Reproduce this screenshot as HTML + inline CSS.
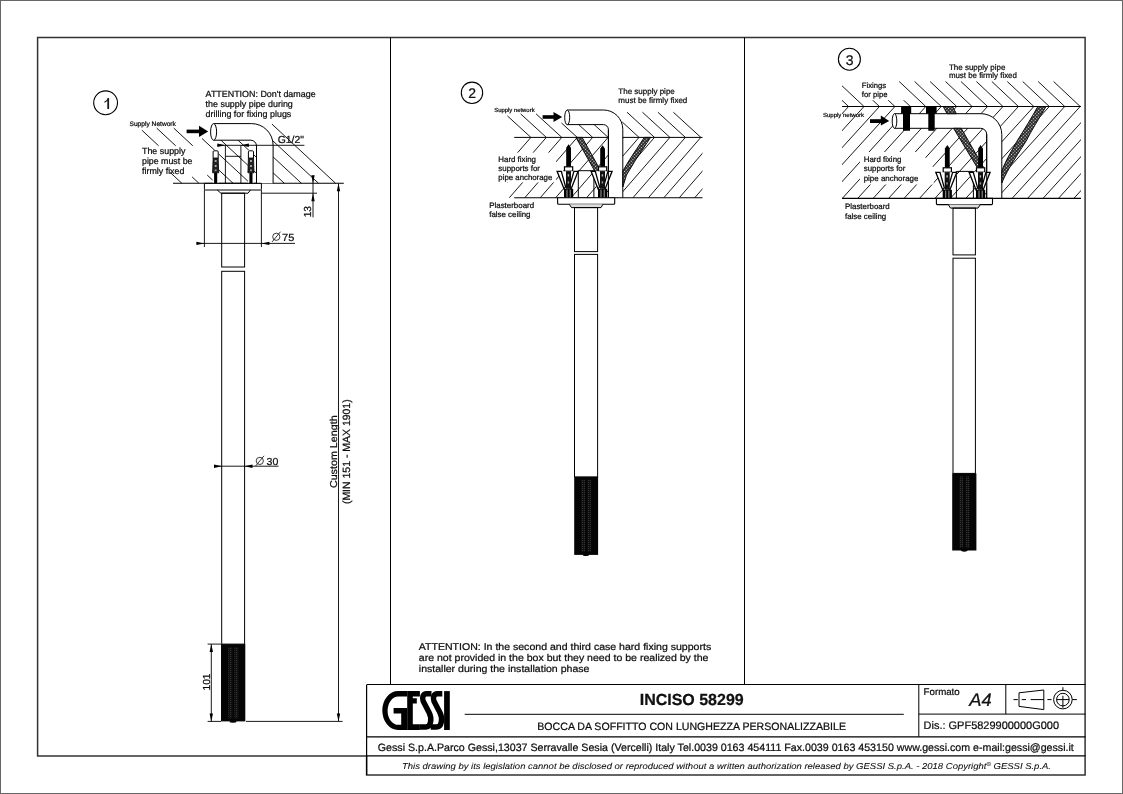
<!DOCTYPE html>
<html><head><meta charset="utf-8"><style>
html,body{margin:0;padding:0;background:#fff;width:1123px;height:794px;overflow:hidden}
svg{display:block;will-change:transform}
text{font-family:"Liberation Sans",sans-serif;text-rendering:geometricPrecision;stroke:#000;stroke-width:0.22px;fill:#111}
</style></head><body>
<svg width="1123" height="794" viewBox="0 0 1123 794">
<rect width="1123" height="794" fill="#fff"/>
<defs><pattern id="kn" width="2" height="2" patternUnits="userSpaceOnUse"><rect width="2" height="2" fill="#111"/><rect width="1" height="1" fill="#333"/></pattern></defs>
<rect x="0.50" y="0.50" width="1122.00" height="793.00" fill="none" stroke="#666" stroke-width="1.0" />
<path d="M366.6,755.9 H37.6 V37.6 H1085.1 V775 H366.6 Z" fill="none" stroke="#333" stroke-width="1.5" />
<line x1="390.50" y1="37.50" x2="390.50" y2="684.50" stroke="#000" stroke-width="1.0" />
<line x1="744.50" y1="37.50" x2="744.50" y2="684.50" stroke="#000" stroke-width="1.0" />
<line x1="367.00" y1="684.50" x2="1085.50" y2="684.50" stroke="#000" stroke-width="1.2" />
<line x1="366.60" y1="684.50" x2="366.60" y2="775.00" stroke="#000" stroke-width="1.2" />
<line x1="367.00" y1="736.80" x2="1085.50" y2="736.80" stroke="#000" stroke-width="1.2" />
<line x1="367.00" y1="755.80" x2="1085.50" y2="755.80" stroke="#000" stroke-width="1.2" />
<line x1="918.80" y1="684.50" x2="918.80" y2="736.80" stroke="#000" stroke-width="1.0" />
<line x1="1005.80" y1="684.50" x2="1005.80" y2="714.10" stroke="#000" stroke-width="1.0" />
<line x1="918.80" y1="714.10" x2="1085.50" y2="714.10" stroke="#000" stroke-width="1.0" />
<line x1="464.70" y1="714.30" x2="903.80" y2="714.30" stroke="#000" stroke-width="1.0" />
<text x="691.70" y="705.40" font-size="16" text-anchor="middle" font-weight="bold" font-style="normal" fill="#111" textLength="104" lengthAdjust="spacingAndGlyphs" >INCISO 58299</text>
<text x="537.30" y="729.70" font-size="10.6" text-anchor="start" font-weight="normal" font-style="normal" fill="#222" textLength="308.7" lengthAdjust="spacingAndGlyphs" >BOCCA DA SOFFITTO CON LUNGHEZZA PERSONALIZZABILE</text>
<text x="923.60" y="694.70" font-size="9.7" text-anchor="start" font-weight="normal" font-style="normal" fill="#222" textLength="36.1" lengthAdjust="spacingAndGlyphs" >Formato</text>
<text x="969.30" y="705.60" font-size="18.3" text-anchor="start" font-weight="normal" font-style="italic" fill="#111" textLength="22.4" lengthAdjust="spacingAndGlyphs" >A4</text>
<text x="923.60" y="729.40" font-size="10.9" text-anchor="start" font-weight="normal" font-style="normal" fill="#222" textLength="135.4" lengthAdjust="spacingAndGlyphs" >Dis.: GPF5829900000G000</text>
<text x="377.80" y="750.80" font-size="10.6" text-anchor="start" font-weight="normal" font-style="normal" fill="#222" textLength="696" lengthAdjust="spacingAndGlyphs" >Gessi S.p.A.Parco Gessi,13037 Serravalle Sesia (Vercelli) Italy Tel.0039 0163 454111 Fax.0039 0163 453150 www.gessi.com e-mail:gessi@gessi.it</text>
<text x="402" y="768.6" font-size="8.6" font-style="italic" fill="#222" style="stroke-width:0.08px" textLength="649" lengthAdjust="spacingAndGlyphs">This drawing by its legislation cannot be disclosed or reproduced without a written authorization released by GESSI S.p.A. - 2018 Copyright<tspan font-size="5.5" dy="-3">©</tspan><tspan dy="3"> GESSI S.p.A.</tspan></text>
<path d="M1019,692.8 L1043.8,690 L1043.8,709.6 L1019,706.4 Z" fill="none" stroke="#000" stroke-width="1" />
<line x1="1013.50" y1="699.60" x2="1017.80" y2="699.60" stroke="#000" stroke-width="1.0" />
<line x1="1021.70" y1="699.60" x2="1026.00" y2="699.60" stroke="#000" stroke-width="1.0" />
<line x1="1030.60" y1="699.60" x2="1043.80" y2="699.60" stroke="#000" stroke-width="1.0" />
<circle cx="1062.9" cy="699.6" r="9.3" fill="none" stroke="#000" stroke-width="1"/>
<circle cx="1062.9" cy="699.6" r="6.3" fill="none" stroke="#000" stroke-width="1"/>
<line x1="1047.40" y1="699.60" x2="1051.60" y2="699.60" stroke="#000" stroke-width="1.0" />
<line x1="1056.60" y1="699.60" x2="1069.20" y2="699.60" stroke="#000" stroke-width="1.0" />
<line x1="1072.20" y1="699.60" x2="1076.90" y2="699.60" stroke="#000" stroke-width="1.0" />
<line x1="1062.90" y1="687.20" x2="1062.90" y2="690.30" stroke="#000" stroke-width="1.0" />
<line x1="1062.90" y1="695.80" x2="1062.90" y2="707.80" stroke="#000" stroke-width="1.0" />
<g fill="#000">
<path fill-rule="evenodd" d="M407.2,691.1 H398 A15.7,19.4 0 0 0 398,729.9 H407.2 Z M407.2,696.5 H398.3 A10.7,14.15 0 0 0 398.3,724.8 H401.2 V713.5 H393.6 V708.1 H407.2 Z"/>
<path d="M407.2,691.1 H419.9 V696.5 H412.8 V698.2 H416.8 V703.6 H412.8 V724.3 H419.9 V730 H407.2 Z"/>
</g>
<g fill="none" stroke="#000" stroke-width="5.5">
<path d="M431.5,693.8 H426.5 C423,693.8 421.8,697.5 423.2,701.2 L429.2,712.8 C431.8,718 431.5,727.1 425.5,727.1 H419.9"/>
<path d="M442.3,693.8 H437.3 C433.8,693.8 432.6,697.5 434,701.2 L440,712.8 C442.6,718 442.3,727.1 436.3,727.1 H430.7"/>
</g>
<rect x="444.1" y="691.1" width="5.7" height="38.9" fill="#000"/>

<line x1="271.94" y1="124.10" x2="335.60" y2="183.30" stroke="#000" stroke-width="0.9" />
<line x1="254.76" y1="124.00" x2="318.52" y2="183.30" stroke="#000" stroke-width="0.9" />
<line x1="237.68" y1="124.00" x2="301.44" y2="183.30" stroke="#000" stroke-width="0.9" />
<line x1="220.60" y1="124.00" x2="284.36" y2="183.30" stroke="#000" stroke-width="0.9" />
<line x1="219.65" y1="139.00" x2="267.28" y2="183.30" stroke="#000" stroke-width="0.9" />
<line x1="202.03" y1="138.50" x2="250.20" y2="183.30" stroke="#000" stroke-width="0.9" />
<line x1="173.77" y1="128.10" x2="192.80" y2="145.80" stroke="#000" stroke-width="0.9" />
<line x1="213.12" y1="164.70" x2="233.12" y2="183.30" stroke="#000" stroke-width="0.9" />
<line x1="156.69" y1="128.10" x2="175.72" y2="145.80" stroke="#000" stroke-width="0.9" />
<line x1="207.22" y1="175.10" x2="216.04" y2="183.30" stroke="#000" stroke-width="0.9" />
<line x1="141.86" y1="130.20" x2="158.64" y2="145.80" stroke="#000" stroke-width="0.9" />
<line x1="192.08" y1="176.90" x2="198.96" y2="183.30" stroke="#000" stroke-width="0.9" />
<line x1="170.27" y1="172.50" x2="181.88" y2="183.30" stroke="#000" stroke-width="0.9" />
<line x1="173.00" y1="183.30" x2="343.80" y2="183.30" stroke="#000" stroke-width="1.1" />
<path d="M213.6,123.6 H251.5 A21.6,21.6 0 0 1 273.1,145.2 V183.3 H256.5 V146 A5.8,5.8 0 0 0 250.7,140.2 H213.6 Z" fill="#fff" stroke="none" stroke-width="1.0" />
<path d="M213.6,123.6 H251.5 A21.6,21.6 0 0 1 273.1,145.2 V183.3" fill="none" stroke="#000" stroke-width="1" />
<path d="M213.6,140.2 H250.7 A5.8,5.8 0 0 1 256.5,146 V183.3" fill="none" stroke="#000" stroke-width="1" />
<ellipse cx="213.6" cy="131.9" rx="3" ry="8.3" fill="#fff" stroke="#000" stroke-width="1"/>
<line x1="225.40" y1="145.30" x2="225.40" y2="183.30" stroke="#000" stroke-width="0.9" />
<line x1="240.90" y1="145.30" x2="240.90" y2="183.30" stroke="#000" stroke-width="0.9" />
<line x1="225.40" y1="156.30" x2="240.90" y2="156.30" stroke="#000" stroke-width="0.9" />
<line x1="217.20" y1="145.30" x2="304.40" y2="145.30" stroke="#000" stroke-width="0.9" />
<path d="M225.40,145.30 L217.40,147.00 L217.40,143.60 Z" fill="#000"/>
<path d="M240.90,145.30 L248.90,143.60 L248.90,147.00 Z" fill="#000"/>
<text x="277.70" y="143.30" font-size="10.2" text-anchor="start" font-weight="normal" font-style="normal" fill="#222" textLength="26.2" lengthAdjust="spacingAndGlyphs" >G1/2"</text>
<rect x="186.60" y="129.60" width="12.60" height="3.60" fill="#000" stroke="none" stroke-width="1.0" />
<path d="M199,125.8 L208.2,131.4 L199,137 Z" fill="#000"/>
<rect x="212.60" y="150.30" width="6.10" height="33.00" fill="#fff" stroke="none" stroke-width="1.0" />
<path d="M213.1,158 V151.8 Q213.1,150.8 214.1,150.8 H217.2 Q218.2,150.8 218.2,151.8 V158" fill="#fff" stroke="#000" stroke-width="1.0" />
<path d="M213.1,158 H218.2 L218.7,172.8 H212.6 Z" fill="#222" stroke="#000" stroke-width="0.8" />
<rect x="214.70" y="160.00" width="1.90" height="2.00" fill="#aaa" stroke="none" stroke-width="1.0" />
<rect x="214.70" y="165.00" width="1.90" height="2.00" fill="#aaa" stroke="none" stroke-width="1.0" />
<rect x="214.70" y="169.50" width="1.90" height="1.60" fill="#999" stroke="none" stroke-width="1.0" />
<rect x="214.10" y="172.80" width="3.10" height="10.50" fill="#000" stroke="none" stroke-width="1.0" />
<rect x="247.90" y="150.30" width="6.10" height="33.00" fill="#fff" stroke="none" stroke-width="1.0" />
<path d="M248.4,158 V151.8 Q248.4,150.8 249.4,150.8 H252.5 Q253.5,150.8 253.5,151.8 V158" fill="#fff" stroke="#000" stroke-width="1.0" />
<path d="M248.4,158 H253.5 L254.0,172.8 H247.9 Z" fill="#222" stroke="#000" stroke-width="0.8" />
<rect x="250.00" y="160.00" width="1.90" height="2.00" fill="#aaa" stroke="none" stroke-width="1.0" />
<rect x="250.00" y="165.00" width="1.90" height="2.00" fill="#aaa" stroke="none" stroke-width="1.0" />
<rect x="250.00" y="169.50" width="1.90" height="1.60" fill="#999" stroke="none" stroke-width="1.0" />
<rect x="249.40" y="172.80" width="3.10" height="10.50" fill="#000" stroke="none" stroke-width="1.0" />
<text x="205.60" y="97.20" font-size="8.9" text-anchor="start" font-weight="normal" font-style="normal" fill="#222" textLength="110" lengthAdjust="spacingAndGlyphs" >ATTENTION: Don't damage</text>
<text x="205.60" y="107.30" font-size="8.9" text-anchor="start" font-weight="normal" font-style="normal" fill="#222" textLength="87.2" lengthAdjust="spacingAndGlyphs" >the supply pipe during</text>
<text x="205.60" y="117.40" font-size="8.9" text-anchor="start" font-weight="normal" font-style="normal" fill="#222" textLength="85.7" lengthAdjust="spacingAndGlyphs" >drilling for fixing plugs</text>
<text x="129.50" y="125.60" font-size="6.6" text-anchor="start" font-weight="normal" font-style="normal" fill="#222" textLength="46.4" lengthAdjust="spacingAndGlyphs" >Supply Network</text>
<text x="142.00" y="154.00" font-size="8.9" text-anchor="start" font-weight="normal" font-style="normal" fill="#222" >The supply</text>
<text x="142.00" y="164.00" font-size="8.9" text-anchor="start" font-weight="normal" font-style="normal" fill="#222" textLength="50.5" lengthAdjust="spacingAndGlyphs" >pipe must be</text>
<text x="142.00" y="174.00" font-size="8.9" text-anchor="start" font-weight="normal" font-style="normal" fill="#222" >firmly fixed</text>
<circle cx="105.6" cy="102.8" r="11.9" fill="none" stroke="#000" stroke-width="1.1"/>
<path d="M104.4,101.6 C106,101 107.2,99.7 107.6,98 H109.1 V109 H107.3 V100.7 C106.6,101.5 105.6,102.2 104.4,102.8 Z" fill="#1a1a1a"/>
<path d="M204.4,183.3 H261.4 V189.2 Q261.4,190 260.6,190 H205.2 Q204.4,190 204.4,189.2 Z" fill="none" stroke="#000" stroke-width="1" />
<path d="M217.2,190 L220.9,193.2 H248 L250.5,190" fill="none" stroke="#000" stroke-width="1" />
<rect x="221.70" y="193.20" width="22.90" height="73.80" fill="none" stroke="#000" stroke-width="1" />
<rect x="221.70" y="271.30" width="22.90" height="372.80" fill="none" stroke="#000" stroke-width="1" />
<rect x="221.00" y="644.10" width="24.30" height="77.30" fill="#050505" stroke="none" stroke-width="1.0" />
<rect x="228.29" y="647.10" width="3.89" height="71.30" fill="url(#kn)"/>
<rect x="234.37" y="647.10" width="3.89" height="71.30" fill="url(#kn)"/>
<ellipse cx="233" cy="721.6" rx="3.5" ry="1.2" fill="#000"/>
<line x1="204.40" y1="190.00" x2="204.40" y2="247.00" stroke="#000" stroke-width="0.9" />
<line x1="261.40" y1="190.00" x2="261.40" y2="247.00" stroke="#000" stroke-width="0.9" />
<line x1="196.80" y1="243.40" x2="295.00" y2="243.40" stroke="#000" stroke-width="0.9" />
<path d="M204.40,243.40 L196.40,245.10 L196.40,241.70 Z" fill="#000"/>
<path d="M261.40,243.40 L269.40,241.70 L269.40,245.10 Z" fill="#000"/>
<text x="282.00" y="240.50" font-size="10.2" text-anchor="start" font-weight="normal" font-style="normal" fill="#222" textLength="12.3" lengthAdjust="spacingAndGlyphs" >75</text>
<circle cx="276.3" cy="236.8" r="3.6" fill="none" stroke="#222" stroke-width="0.9"/>
<line x1="272.10" y1="241.90" x2="280.50" y2="231.70" stroke="#222" stroke-width="0.9" />
<line x1="261.40" y1="193.20" x2="317.00" y2="193.20" stroke="#000" stroke-width="0.9" />
<line x1="313.00" y1="175.60" x2="313.00" y2="217.30" stroke="#000" stroke-width="0.9" />
<path d="M313.00,183.30 L311.30,175.30 L314.70,175.30 Z" fill="#000"/>
<path d="M313.00,193.20 L314.70,201.20 L311.30,201.20 Z" fill="#000"/>
<text x="0" y="0" font-size="10.2" fill="#222" transform="translate(311.2,211.7) rotate(-90)" text-anchor="middle">13</text>
<line x1="338.50" y1="183.30" x2="338.50" y2="721.40" stroke="#000" stroke-width="0.9" />
<path d="M338.50,183.30 L340.20,191.30 L336.80,191.30 Z" fill="#000"/>
<path d="M338.50,721.40 L336.80,713.40 L340.20,713.40 Z" fill="#000"/>
<line x1="246.00" y1="721.40" x2="342.60" y2="721.40" stroke="#000" stroke-width="0.9" />
<text x="0" y="0" font-size="10" fill="#222" transform="translate(336.8,488.1) rotate(-90)" textLength="72.8" lengthAdjust="spacingAndGlyphs">Custom Length</text>
<text x="0" y="0" font-size="10.5" fill="#222" transform="translate(350,504.1) rotate(-90)" textLength="104.8" lengthAdjust="spacingAndGlyphs">(MIN 151 - MAX 1901)</text>
<line x1="214.00" y1="466.20" x2="278.50" y2="466.20" stroke="#000" stroke-width="0.9" />
<path d="M222.00,466.20 L214.00,467.90 L214.00,464.50 Z" fill="#000"/>
<path d="M244.50,466.20 L252.50,464.50 L252.50,467.90 Z" fill="#000"/>
<circle cx="259.8" cy="460.9" r="3.6" fill="none" stroke="#222" stroke-width="0.9"/>
<line x1="255.60" y1="466.00" x2="264.00" y2="455.80" stroke="#222" stroke-width="0.9" />
<text x="266.60" y="464.60" font-size="10.2" text-anchor="start" font-weight="normal" font-style="normal" fill="#222" textLength="11.8" lengthAdjust="spacingAndGlyphs" >30</text>
<line x1="207.60" y1="644.10" x2="221.00" y2="644.10" stroke="#000" stroke-width="0.9" />
<line x1="207.60" y1="721.40" x2="221.00" y2="721.40" stroke="#000" stroke-width="0.9" />
<line x1="211.30" y1="644.10" x2="211.30" y2="721.40" stroke="#000" stroke-width="0.9" />
<path d="M211.30,644.10 L213.00,652.10 L209.60,652.10 Z" fill="#000"/>
<path d="M211.30,721.40 L209.60,713.40 L213.00,713.40 Z" fill="#000"/>
<text x="0" y="0" font-size="10.2" fill="#222" transform="translate(209.8,682) rotate(-90)" text-anchor="middle">101</text>
<defs><clipPath id="c2"><rect x="507.20000000000005" y="137.4" width="195.29999999999995" height="60.400000000000006"/></clipPath><clipPath id="c2u"><rect x="490" y="100" width="212.5" height="37.400000000000006"/></clipPath><pattern id="xh" width="2.4" height="2.4" patternUnits="userSpaceOnUse" patternTransform="rotate(45)"><rect width="2.4" height="2.4" fill="#1a1a1a"/><rect x="0.6" y="0.6" width="1.2" height="1.2" fill="#f4f4f4"/></pattern></defs>
<line x1="507.40" y1="115.90" x2="530.90" y2="137.40" stroke="#000" stroke-width="0.9" />
<line x1="520.67" y1="113.90" x2="546.35" y2="137.40" stroke="#000" stroke-width="0.9" />
<line x1="536.12" y1="113.90" x2="561.80" y2="137.40" stroke="#000" stroke-width="0.9" />
<line x1="561.51" y1="123.00" x2="577.25" y2="137.40" stroke="#000" stroke-width="0.9" />
<line x1="576.96" y1="123.00" x2="592.70" y2="137.40" stroke="#000" stroke-width="0.9" />
<line x1="592.41" y1="123.00" x2="608.15" y2="137.40" stroke="#000" stroke-width="0.9" />
<line x1="622.22" y1="122.00" x2="639.05" y2="137.40" stroke="#000" stroke-width="0.9" />
<line x1="626.96" y1="112.20" x2="654.50" y2="137.40" stroke="#000" stroke-width="0.9" />
<line x1="642.41" y1="112.20" x2="669.95" y2="137.40" stroke="#000" stroke-width="0.9" />
<line x1="657.86" y1="112.20" x2="685.40" y2="137.40" stroke="#000" stroke-width="0.9" />
<line x1="673.31" y1="112.20" x2="700.85" y2="137.40" stroke="#000" stroke-width="0.9" />
<g clip-path="url(#c2)">
<line x1="530.90" y1="137.40" x2="476.64" y2="199.80" stroke="#000" stroke-width="0.9" />
<line x1="546.35" y1="137.40" x2="492.09" y2="199.80" stroke="#000" stroke-width="0.9" />
<line x1="561.80" y1="137.40" x2="507.54" y2="199.80" stroke="#000" stroke-width="0.9" />
<line x1="577.25" y1="137.40" x2="522.99" y2="199.80" stroke="#000" stroke-width="0.9" />
<line x1="592.70" y1="137.40" x2="538.44" y2="199.80" stroke="#000" stroke-width="0.9" />
<line x1="608.15" y1="137.40" x2="553.89" y2="199.80" stroke="#000" stroke-width="0.9" />
<line x1="623.60" y1="137.40" x2="569.34" y2="199.80" stroke="#000" stroke-width="0.9" />
<line x1="639.05" y1="137.40" x2="584.79" y2="199.80" stroke="#000" stroke-width="0.9" />
<line x1="654.50" y1="137.40" x2="600.24" y2="199.80" stroke="#000" stroke-width="0.9" />
<line x1="669.95" y1="137.40" x2="615.69" y2="199.80" stroke="#000" stroke-width="0.9" />
<line x1="685.40" y1="137.40" x2="631.14" y2="199.80" stroke="#000" stroke-width="0.9" />
<line x1="700.85" y1="137.40" x2="646.59" y2="199.80" stroke="#000" stroke-width="0.9" />
<line x1="716.30" y1="137.40" x2="662.04" y2="199.80" stroke="#000" stroke-width="0.9" />
<line x1="731.75" y1="137.40" x2="677.49" y2="199.80" stroke="#000" stroke-width="0.9" />
<line x1="747.20" y1="137.40" x2="692.94" y2="199.80" stroke="#000" stroke-width="0.9" />
<line x1="762.65" y1="137.40" x2="708.39" y2="199.80" stroke="#000" stroke-width="0.9" />
</g>
<line x1="514.20" y1="137.40" x2="702.50" y2="137.40" stroke="#000" stroke-width="1.0" />
<rect x="496.00" y="152.60" width="60.00" height="29.80" fill="#fff" stroke="none" stroke-width="1.0" />
<path d="M567.2,110 H603.5 A19.3,19.3 0 0 1 622.8,129.3 V197.8 H608.4 V129.6 A5,5 0 0 0 603.4,124.6 H567.2 Z" fill="#fff" stroke="none" stroke-width="1.0" />
<line x1="514.20" y1="197.80" x2="702.50" y2="197.80" stroke="#000" stroke-width="1.1" />
<path d="M567.2,110 H603.5 A19.3,19.3 0 0 1 622.8,129.3 V197.8" fill="none" stroke="#000" stroke-width="1" />
<path d="M567.2,124.6 H603.4 A5,5 0 0 1 608.4,129.6 V197.8" fill="none" stroke="#000" stroke-width="1" />
<ellipse cx="567.2" cy="117.4" rx="2.5" ry="7.3" fill="#fff" stroke="#000" stroke-width="1"/>
<rect x="542.60" y="115.20" width="11.50" height="3.60" fill="#000" stroke="none" stroke-width="1.0" />
<path d="M553.5,112 L562.2,117 L553.5,122 Z" fill="#000"/>
<path d="M575.9,137.4 L582.1,137.4 L600.8,171 L597.5,176 Z" fill="url(#xh)" stroke="#000" stroke-width="0.9" />
<path d="M644.3,137.4 L650.6,137.4 L636,159.3 L626.5,175 L622.8,187 V171 L629.8,159.3 Z" fill="url(#xh)" stroke="#000" stroke-width="0.9" />
<path d="M578.3,197.8 V170.7 H593.9 V197.8" fill="none" stroke="#000" stroke-width="1" />
<path d="M568.6,144.2 L571.0,147.7 V166.70000000000002 H566.2 V147.7 Z" fill="#000" stroke="none" stroke-width="1.0" />
<rect x="564.50" y="166.80" width="8.20" height="4.40" fill="#fff" stroke="#000" stroke-width="1.2" />
<path d="M556.8000000000001,171.3 H578.4 L573.4,188.8 H563.8000000000001 Z" fill="#fff" stroke="none" stroke-width="1.0" />
<path d="M557.1,171.3 L561.3000000000001,171.3 L565.6,186.8 L564.0,188.8 Z" fill="#fff" stroke="#000" stroke-width="1.3" />
<path d="M578.1,171.3 L573.9,171.3 L569.6,186.8 L571.2,188.8 Z" fill="#fff" stroke="#000" stroke-width="1.3" />
<rect x="566.00" y="171.10" width="5.00" height="17.70" fill="#111" stroke="none" stroke-width="1.0" />
<rect x="567.70" y="174.30" width="1.40" height="2.20" fill="#bbb" stroke="none" stroke-width="1.0" />
<rect x="567.70" y="181.30" width="1.40" height="2.20" fill="#999" stroke="none" stroke-width="1.0" />
<rect x="564.00" y="188.80" width="9.20" height="9.00" fill="#000" stroke="none" stroke-width="1.0" />
<line x1="567.00" y1="189.60" x2="567.00" y2="197.80" stroke="#ccc" stroke-width="0.8" />
<line x1="570.20" y1="189.60" x2="570.20" y2="197.80" stroke="#ccc" stroke-width="0.8" />
<path d="M602.6,145.2 L605.0,148.7 V166.70000000000002 H600.2 V148.7 Z" fill="#000" stroke="none" stroke-width="1.0" />
<rect x="598.50" y="166.80" width="8.20" height="4.40" fill="#fff" stroke="#000" stroke-width="1.2" />
<path d="M590.8000000000001,171.3 H612.4 L607.4,188.8 H597.8000000000001 Z" fill="#fff" stroke="none" stroke-width="1.0" />
<path d="M591.1,171.3 L595.3000000000001,171.3 L599.6,186.8 L598.0,188.8 Z" fill="#fff" stroke="#000" stroke-width="1.3" />
<path d="M612.1,171.3 L607.9,171.3 L603.6,186.8 L605.2,188.8 Z" fill="#fff" stroke="#000" stroke-width="1.3" />
<rect x="600.00" y="171.10" width="5.00" height="17.70" fill="#111" stroke="none" stroke-width="1.0" />
<rect x="601.70" y="174.30" width="1.40" height="2.20" fill="#bbb" stroke="none" stroke-width="1.0" />
<rect x="601.70" y="181.30" width="1.40" height="2.20" fill="#999" stroke="none" stroke-width="1.0" />
<rect x="598.00" y="188.80" width="9.20" height="9.00" fill="#000" stroke="none" stroke-width="1.0" />
<line x1="601.00" y1="189.60" x2="601.00" y2="197.80" stroke="#ccc" stroke-width="0.8" />
<line x1="604.20" y1="189.60" x2="604.20" y2="197.80" stroke="#ccc" stroke-width="0.8" />
<line x1="608.40" y1="129.60" x2="608.40" y2="197.80" stroke="#000" stroke-width="1" />
<path d="M557.6,197.8 H614.7 V203.2 Q614.7,204.2 613.7,204.2 H558.6 Q557.6,204.2 557.6,203.2 Z" fill="#fff" stroke="#000" stroke-width="1.1" />
<path d="M569.2,204.2 L571.5,207.6 H601 L603,204.2" fill="#ddd" stroke="#000" stroke-width="1" />
<rect x="574.50" y="207.60" width="23.10" height="44.00" fill="none" stroke="#000" stroke-width="1" />
<rect x="574.50" y="254.40" width="23.10" height="222.50" fill="none" stroke="#000" stroke-width="1" />
<rect x="574.20" y="476.90" width="23.90" height="78.00" fill="#050505" stroke="none" stroke-width="1.0" />
<rect x="581.37" y="479.90" width="3.82" height="72.00" fill="url(#kn)"/>
<rect x="587.35" y="479.90" width="3.82" height="72.00" fill="url(#kn)"/>
<ellipse cx="586" cy="555" rx="3.2" ry="1.1" fill="#000"/>
<circle cx="472.0" cy="92.8" r="10.7" fill="none" stroke="#000" stroke-width="1.1"/>
<text x="472.20" y="98.00" font-size="14" text-anchor="middle" font-weight="normal" font-style="normal" fill="#111" >2</text>
<text x="618.30" y="94.20" font-size="8.0" text-anchor="start" font-weight="normal" font-style="normal" fill="#222" textLength="56.5" lengthAdjust="spacingAndGlyphs" >The supply pipe</text>
<text x="618.30" y="102.90" font-size="8.0" text-anchor="start" font-weight="normal" font-style="normal" fill="#222" textLength="69" lengthAdjust="spacingAndGlyphs" >must be firmly fixed</text>
<text x="494.20" y="111.80" font-size="5.8" text-anchor="start" font-weight="normal" font-style="normal" fill="#222" textLength="40.4" lengthAdjust="spacingAndGlyphs" >Supply network</text>
<text x="498.30" y="161.70" font-size="7.9" text-anchor="start" font-weight="normal" font-style="normal" fill="#222" >Hard fixing</text>
<text x="498.30" y="170.70" font-size="7.9" text-anchor="start" font-weight="normal" font-style="normal" fill="#222" >supports for</text>
<text x="498.30" y="179.70" font-size="7.9" text-anchor="start" font-weight="normal" font-style="normal" fill="#222" textLength="54" lengthAdjust="spacingAndGlyphs" >pipe anchorage</text>
<text x="489.20" y="207.90" font-size="7.9" text-anchor="start" font-weight="normal" font-style="normal" fill="#222" textLength="44.9" lengthAdjust="spacingAndGlyphs" >Plasterboard</text>
<text x="489.20" y="216.60" font-size="7.9" text-anchor="start" font-weight="normal" font-style="normal" fill="#222" >false ceiling</text>
<text x="418.80" y="649.70" font-size="9.8" text-anchor="start" font-weight="normal" font-style="normal" fill="#222" textLength="292.4" lengthAdjust="spacingAndGlyphs" >ATTENTION: In the second and third case hard fixing supports</text>
<text x="418.80" y="661.20" font-size="9.8" text-anchor="start" font-weight="normal" font-style="normal" fill="#222" textLength="289.7" lengthAdjust="spacingAndGlyphs" >are not provided in the box but they need to be realized by the</text>
<text x="418.80" y="672.40" font-size="9.8" text-anchor="start" font-weight="normal" font-style="normal" fill="#222" textLength="170.6" lengthAdjust="spacingAndGlyphs" >installer during the installation phase</text>
<defs><clipPath id="c3l"><rect x="842.0" y="106.5" width="239.0" height="91.9"/></clipPath><clipPath id="c3u"><rect x="842.0" y="60" width="239.0" height="46.5"/></clipPath></defs>
<g clip-path="url(#c3u)">
<line x1="822.00" y1="81.50" x2="848.60" y2="106.50" stroke="#000" stroke-width="0.9" />
<line x1="837.44" y1="81.50" x2="864.04" y2="106.50" stroke="#000" stroke-width="0.9" />
<line x1="852.88" y1="81.50" x2="879.48" y2="106.50" stroke="#000" stroke-width="0.9" />
<line x1="868.32" y1="81.50" x2="894.92" y2="106.50" stroke="#000" stroke-width="0.9" />
<line x1="883.76" y1="81.50" x2="910.36" y2="106.50" stroke="#000" stroke-width="0.9" />
<line x1="899.20" y1="81.50" x2="925.80" y2="106.50" stroke="#000" stroke-width="0.9" />
<line x1="914.64" y1="81.50" x2="941.24" y2="106.50" stroke="#000" stroke-width="0.9" />
<line x1="930.08" y1="81.50" x2="956.68" y2="106.50" stroke="#000" stroke-width="0.9" />
<line x1="945.52" y1="81.50" x2="972.12" y2="106.50" stroke="#000" stroke-width="0.9" />
<line x1="960.96" y1="81.50" x2="987.56" y2="106.50" stroke="#000" stroke-width="0.9" />
<line x1="976.40" y1="81.50" x2="1003.00" y2="106.50" stroke="#000" stroke-width="0.9" />
<line x1="991.84" y1="81.50" x2="1018.44" y2="106.50" stroke="#000" stroke-width="0.9" />
<line x1="1007.28" y1="81.50" x2="1033.88" y2="106.50" stroke="#000" stroke-width="0.9" />
<line x1="1022.72" y1="81.50" x2="1049.32" y2="106.50" stroke="#000" stroke-width="0.9" />
<line x1="1038.16" y1="81.50" x2="1064.76" y2="106.50" stroke="#000" stroke-width="0.9" />
<line x1="1053.60" y1="81.50" x2="1080.20" y2="106.50" stroke="#000" stroke-width="0.9" />
</g>
<g clip-path="url(#c3l)">
<line x1="848.60" y1="106.50" x2="763.24" y2="200.40" stroke="#000" stroke-width="0.9" />
<line x1="864.04" y1="106.50" x2="778.68" y2="200.40" stroke="#000" stroke-width="0.9" />
<line x1="879.48" y1="106.50" x2="794.12" y2="200.40" stroke="#000" stroke-width="0.9" />
<line x1="894.92" y1="106.50" x2="809.56" y2="200.40" stroke="#000" stroke-width="0.9" />
<line x1="910.36" y1="106.50" x2="825.00" y2="200.40" stroke="#000" stroke-width="0.9" />
<line x1="925.80" y1="106.50" x2="840.44" y2="200.40" stroke="#000" stroke-width="0.9" />
<line x1="941.24" y1="106.50" x2="855.88" y2="200.40" stroke="#000" stroke-width="0.9" />
<line x1="956.68" y1="106.50" x2="871.32" y2="200.40" stroke="#000" stroke-width="0.9" />
<line x1="972.12" y1="106.50" x2="886.76" y2="200.40" stroke="#000" stroke-width="0.9" />
<line x1="987.56" y1="106.50" x2="902.20" y2="200.40" stroke="#000" stroke-width="0.9" />
<line x1="1003.00" y1="106.50" x2="917.64" y2="200.40" stroke="#000" stroke-width="0.9" />
<line x1="1018.44" y1="106.50" x2="933.08" y2="200.40" stroke="#000" stroke-width="0.9" />
<line x1="1033.88" y1="106.50" x2="948.52" y2="200.40" stroke="#000" stroke-width="0.9" />
<line x1="1049.32" y1="106.50" x2="963.96" y2="200.40" stroke="#000" stroke-width="0.9" />
<line x1="1064.76" y1="106.50" x2="979.40" y2="200.40" stroke="#000" stroke-width="0.9" />
<line x1="1080.20" y1="106.50" x2="994.84" y2="200.40" stroke="#000" stroke-width="0.9" />
<line x1="1095.64" y1="106.50" x2="1010.28" y2="200.40" stroke="#000" stroke-width="0.9" />
<line x1="1111.08" y1="106.50" x2="1025.72" y2="200.40" stroke="#000" stroke-width="0.9" />
<line x1="1126.52" y1="106.50" x2="1041.16" y2="200.40" stroke="#000" stroke-width="0.9" />
<line x1="1141.96" y1="106.50" x2="1056.60" y2="200.40" stroke="#000" stroke-width="0.9" />
<line x1="1157.40" y1="106.50" x2="1072.04" y2="200.40" stroke="#000" stroke-width="0.9" />
<line x1="1172.84" y1="106.50" x2="1087.48" y2="200.40" stroke="#000" stroke-width="0.9" />
<line x1="1188.28" y1="106.50" x2="1102.92" y2="200.40" stroke="#000" stroke-width="0.9" />
<line x1="1203.72" y1="106.50" x2="1118.36" y2="200.40" stroke="#000" stroke-width="0.9" />
<line x1="1219.16" y1="106.50" x2="1133.80" y2="200.40" stroke="#000" stroke-width="0.9" />
<line x1="1234.60" y1="106.50" x2="1149.24" y2="200.40" stroke="#000" stroke-width="0.9" />
<line x1="1250.04" y1="106.50" x2="1164.68" y2="200.40" stroke="#000" stroke-width="0.9" />
<line x1="1265.48" y1="106.50" x2="1180.12" y2="200.40" stroke="#000" stroke-width="0.9" />
<line x1="1280.92" y1="106.50" x2="1195.56" y2="200.40" stroke="#000" stroke-width="0.9" />
<line x1="1296.36" y1="106.50" x2="1211.00" y2="200.40" stroke="#000" stroke-width="0.9" />
<line x1="1311.80" y1="106.50" x2="1226.44" y2="200.40" stroke="#000" stroke-width="0.9" />
<line x1="1327.24" y1="106.50" x2="1241.88" y2="200.40" stroke="#000" stroke-width="0.9" />
</g>
<path d="M851,78 H896 L909,100.3 H859 Z" fill="#fff"/>
<path d="M859.9,151.9 H921 L933.7,168 V184.4 H859.9 Z" fill="#fff"/>
<line x1="842.00" y1="106.50" x2="1081.00" y2="106.50" stroke="#000" stroke-width="1.0" />
<path d="M894.5,113.7 H981 A20.8,20.8 0 0 1 1001.8,134.5 V198.4 H986.7 V134.3 A6,6 0 0 0 980.7,128.3 H894.5 Z" fill="#fff" stroke="none" stroke-width="1.0" />
<line x1="842.00" y1="198.40" x2="1081.00" y2="198.40" stroke="#000" stroke-width="1.1" />
<path d="M894.5,113.7 H981 A20.8,20.8 0 0 1 1001.8,134.5 V198.4" fill="none" stroke="#000" stroke-width="1" />
<path d="M894.5,128.3 H980.7 A6,6 0 0 1 986.7,134.3 V198.4" fill="none" stroke="#000" stroke-width="1" />
<ellipse cx="894.5" cy="121" rx="2.3" ry="7.3" fill="#fff" stroke="#000" stroke-width="1"/>
<path d="M901.1,106.5 H911.2 V113.5 H910 V130.7 H903 V113.5 H901.1 Z" fill="#000" stroke="none" stroke-width="1.0" />
<path d="M926,106.5 H936.6 V113.5 H934.7 V130.7 H928.3 V113.5 H926 Z" fill="#000" stroke="none" stroke-width="1.0" />
<rect x="870.00" y="119.20" width="11.50" height="3.80" fill="#000" stroke="none" stroke-width="1.0" />
<path d="M880.8,115.4 L889.2,120.9 L880.8,125.6 Z" fill="#000"/>
<path d="M943.2,106.5 L952.6,106.5 L956.4,113.7 L947,113.7 Z" fill="url(#xh)" stroke="#000" stroke-width="0.9" />
<path d="M953.5,128.3 L961.2,128.3 L983.8,167.7 L981,176 L977.8,168.5 Z" fill="url(#xh)" stroke="#000" stroke-width="0.9" />
<path d="M1037.8,106.5 H1046 C1040,117 1030,133 1026.8,140 C1020,151 1008,168 1001.8,183 V171 C1005,162 1013,148 1017.7,140 C1024,130 1032,117 1037.8,106.5 Z" fill="url(#xh)" stroke="#000" stroke-width="0.9" />
<path d="M956.4,198.4 V171.4 H973.4 V198.4" fill="none" stroke="#000" stroke-width="1" />
<path d="M947.3,145 L949.6999999999999,148.5 V167.70000000000002 H944.9 V148.5 Z" fill="#000" stroke="none" stroke-width="1.0" />
<rect x="943.20" y="167.80" width="8.20" height="4.40" fill="#fff" stroke="#000" stroke-width="1.2" />
<path d="M935.5,172.3 H957.0999999999999 L952.0999999999999,189.8 H942.5 Z" fill="#fff" stroke="none" stroke-width="1.0" />
<path d="M935.8,172.3 L940.0,172.3 L944.3,187.8 L942.6999999999999,189.8 Z" fill="#fff" stroke="#000" stroke-width="1.3" />
<path d="M956.8,172.3 L952.5999999999999,172.3 L948.3,187.8 L949.9,189.8 Z" fill="#fff" stroke="#000" stroke-width="1.3" />
<rect x="944.70" y="172.10" width="5.00" height="17.70" fill="#111" stroke="none" stroke-width="1.0" />
<rect x="946.40" y="175.30" width="1.40" height="2.20" fill="#bbb" stroke="none" stroke-width="1.0" />
<rect x="946.40" y="182.30" width="1.40" height="2.20" fill="#999" stroke="none" stroke-width="1.0" />
<rect x="942.70" y="189.80" width="9.20" height="8.60" fill="#000" stroke="none" stroke-width="1.0" />
<line x1="945.70" y1="190.60" x2="945.70" y2="198.40" stroke="#ccc" stroke-width="0.8" />
<line x1="948.90" y1="190.60" x2="948.90" y2="198.40" stroke="#ccc" stroke-width="0.8" />
<path d="M980.6,145 L983.0,148.5 V167.70000000000002 H978.2 V148.5 Z" fill="#000" stroke="none" stroke-width="1.0" />
<rect x="976.50" y="167.80" width="8.20" height="4.40" fill="#fff" stroke="#000" stroke-width="1.2" />
<path d="M968.8000000000001,172.3 H990.4 L985.4,189.8 H975.8000000000001 Z" fill="#fff" stroke="none" stroke-width="1.0" />
<path d="M969.1,172.3 L973.3000000000001,172.3 L977.6,187.8 L976.0,189.8 Z" fill="#fff" stroke="#000" stroke-width="1.3" />
<path d="M990.1,172.3 L985.9,172.3 L981.6,187.8 L983.2,189.8 Z" fill="#fff" stroke="#000" stroke-width="1.3" />
<rect x="978.00" y="172.10" width="5.00" height="17.70" fill="#111" stroke="none" stroke-width="1.0" />
<rect x="979.70" y="175.30" width="1.40" height="2.20" fill="#bbb" stroke="none" stroke-width="1.0" />
<rect x="979.70" y="182.30" width="1.40" height="2.20" fill="#999" stroke="none" stroke-width="1.0" />
<rect x="976.00" y="189.80" width="9.20" height="8.60" fill="#000" stroke="none" stroke-width="1.0" />
<line x1="979.00" y1="190.60" x2="979.00" y2="198.40" stroke="#ccc" stroke-width="0.8" />
<line x1="982.20" y1="190.60" x2="982.20" y2="198.40" stroke="#ccc" stroke-width="0.8" />
<line x1="986.70" y1="134.30" x2="986.70" y2="198.40" stroke="#000" stroke-width="1" />
<path d="M936.4,198.4 H992.5 V203.6 Q992.5,204.6 991.5,204.6 H937.4 Q936.4,204.6 936.4,203.6 Z" fill="#fff" stroke="#000" stroke-width="1.1" />
<path d="M948.3,204.6 L950.5,208.1 H978 L980.3,204.6" fill="#ddd" stroke="#000" stroke-width="1" />
<rect x="953.00" y="208.10" width="22.40" height="46.80" fill="none" stroke="#000" stroke-width="1" />
<rect x="953.00" y="258.20" width="22.40" height="215.20" fill="none" stroke="#000" stroke-width="1" />
<rect x="952.20" y="473.40" width="24.20" height="77.10" fill="#050505" stroke="none" stroke-width="1.0" />
<rect x="959.46" y="476.40" width="3.87" height="71.10" fill="url(#kn)"/>
<rect x="965.51" y="476.40" width="3.87" height="71.10" fill="url(#kn)"/>
<ellipse cx="964.3" cy="550.6" rx="3.2" ry="1.1" fill="#000"/>
<circle cx="849.4" cy="59.2" r="11" fill="none" stroke="#000" stroke-width="1.1"/>
<text x="849.60" y="65.00" font-size="14" text-anchor="middle" font-weight="normal" font-style="normal" fill="#111" >3</text>
<text x="948.90" y="69.70" font-size="8.0" text-anchor="start" font-weight="normal" font-style="normal" fill="#222" textLength="56.5" lengthAdjust="spacingAndGlyphs" >The supply pipe</text>
<text x="948.90" y="78.40" font-size="8.0" text-anchor="start" font-weight="normal" font-style="normal" fill="#222" textLength="68" lengthAdjust="spacingAndGlyphs" >must be firmly fixed</text>
<text x="861.80" y="87.80" font-size="7.7" text-anchor="start" font-weight="normal" font-style="normal" fill="#222" textLength="24.3" lengthAdjust="spacingAndGlyphs" >Fixings</text>
<text x="861.80" y="96.60" font-size="7.7" text-anchor="start" font-weight="normal" font-style="normal" fill="#222" >for pipe</text>
<text x="823.00" y="116.70" font-size="5.8" text-anchor="start" font-weight="normal" font-style="normal" fill="#222" textLength="41" lengthAdjust="spacingAndGlyphs" >Supply network</text>
<text x="863.70" y="162.10" font-size="7.9" text-anchor="start" font-weight="normal" font-style="normal" fill="#222" >Hard fixing</text>
<text x="863.70" y="170.70" font-size="7.9" text-anchor="start" font-weight="normal" font-style="normal" fill="#222" >supports for</text>
<text x="863.70" y="180.90" font-size="7.9" text-anchor="start" font-weight="normal" font-style="normal" fill="#222" textLength="54.7" lengthAdjust="spacingAndGlyphs" >pipe anchorage</text>
<text x="845.00" y="208.70" font-size="7.9" text-anchor="start" font-weight="normal" font-style="normal" fill="#222" textLength="44.7" lengthAdjust="spacingAndGlyphs" >Plasterboard</text>
<text x="845.00" y="218.50" font-size="7.9" text-anchor="start" font-weight="normal" font-style="normal" fill="#222" >false ceiling</text>
</svg></body></html>
